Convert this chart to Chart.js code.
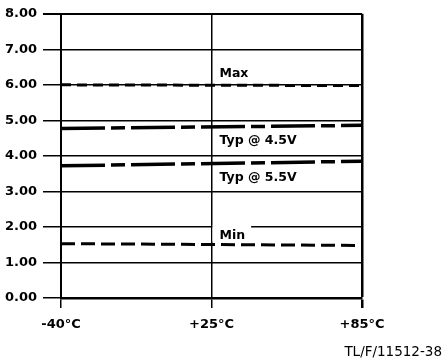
<!DOCTYPE html>
<html>
<head>
<meta charset="utf-8">
<script src="https://cdn.jsdelivr.net/npm/chart.js@4.4.1/dist/chart.umd.min.js"></script>
<style>
  html, body { margin: 0; padding: 0; background: #fff; }
  #wrap { width: 444px; height: 360px; position: relative; }
</style>
</head>
<body>
<div id="wrap"><canvas id="c" width="444" height="360"></canvas></div>
<script>
// Temperature points, evenly spaced along the axis
const tempLabels = ['-40°C', '+25°C', '+85°C'];
// Curves are measured at the two end temperatures
const endPoints = ['-40°C', '+85°C'];

// Curve values at -40°C and +85°C
const maxVals = [6.00, 5.98];
const typ45Vals = [4.77, 4.86];
const typ55Vals = [3.72, 3.85];
const minVals = [1.53, 1.48];

// Curve names, as printed beside each curve
const curveNames = ['Max', 'Typ @ 4.5V', 'Typ @ 5.5V', 'Min'];

const FONT = '"DejaVu Sans", sans-serif';

function pts(vals) {
  return endPoints.map((t, i) => ({ x: tempLabels.indexOf(t), y: vals[i] }));
}

// Writes the curve names next to the +25°C line, plus the drawing number
const curveLabels = {
  id: 'curveLabels',
  afterDatasetsDraw(chart, args, opts) {
    const { ctx, scales: { x, y } } = chart;
    ctx.save();
    ctx.font = 'bold 12.5px ' + FONT;
    ctx.textBaseline = 'middle';
    ctx.textAlign = 'left';
    opts.items.forEach(it => {
      const px = x.getPixelForValue(tempLabels.indexOf(it.at)) + 8;
      const py = y.getPixelForValue(it.y);
      if (it.box) {
        const w = ctx.measureText(it.text).width;
        ctx.fillStyle = '#fff';
        ctx.fillRect(px - 7, py - 10, w + 13, 16);
      }
      ctx.fillStyle = '#000';
      ctx.fillText(it.text, px, py);
    });
    ctx.font = '13.5px ' + FONT;
    ctx.textAlign = 'right';
    ctx.fillStyle = '#000';
    ctx.fillText('TL/F/11512-38', 442, 352);
    ctx.restore();
  }
};

const lineDs = (label, vals, dash, width) => ({
  label,
  data: pts(vals),
  showLine: true,
  borderColor: '#000',
  borderWidth: width,
  borderDash: dash,
  borderCapStyle: 'butt',
  pointRadius: 0,
  fill: false
});

new Chart(document.getElementById('c'), {
  type: 'scatter',
  data: {
    datasets: [
      lineDs(curveNames[0], maxVals, [10, 6], 3),
      lineDs(curveNames[1], typ45Vals, [44, 6, 14, 6], 3.5),
      lineDs(curveNames[2], typ55Vals, [44, 6, 14, 6], 3.5),
      lineDs(curveNames[3], minVals, [14, 6], 3)
    ]
  },
  options: {
    responsive: false,
    animation: false,
    layout: { padding: { left: 0, right: 82, top: 12, bottom: 0 } },
    plugins: {
      legend: { display: false },
      tooltip: { enabled: false },
      curveLabels: {
        items: [
          { text: curveNames[0], at: '+25°C', y: 6.32 },
          { text: curveNames[1], at: '+25°C', y: 4.42 },
          { text: curveNames[2], at: '+25°C', y: 3.38 },
          { text: curveNames[3], at: '+25°C', y: 1.76, box: true }
        ]
      }
    },
    scales: {
      x: {
        type: 'linear',
        min: 0,
        max: tempLabels.length - 1,
        afterBuildTicks: s => { s.ticks = tempLabels.map((_, i) => ({ value: i })); },
        afterFit: s => { s.height = 62; },
        ticks: {
          autoSkip: false,
          maxRotation: 0,
          padding: 9,
          color: '#000',
          font: { family: FONT, size: 13, weight: 'bold' },
          callback: v => tempLabels[v]
        },
        grid: {
          color: '#000',
          lineWidth: c => (c.tick && c.tick.value === tempLabels.length - 1 ? 2.5 : 1.5),
          tickLength: 10,
          drawTicks: true
        },
        border: { display: true, color: '#000', width: 2.5 }
      },
      y: {
        min: 0,
        max: 8,
        afterFit: s => { s.width = 61; },
        ticks: {
          stepSize: 1,
          padding: 6,
          color: '#000',
          font: { family: FONT, size: 13, weight: 'bold' },
          callback: v => v.toFixed(2)
        },
        grid: {
          color: '#000',
          lineWidth: c => (c.tick && c.tick.value === 8 ? 2 : 1.5),
          tickLength: 18
        },
        border: { display: true, color: '#000', width: 2 }
      }
    }
  },
  plugins: [curveLabels]
});
</script>
</body>
</html>
